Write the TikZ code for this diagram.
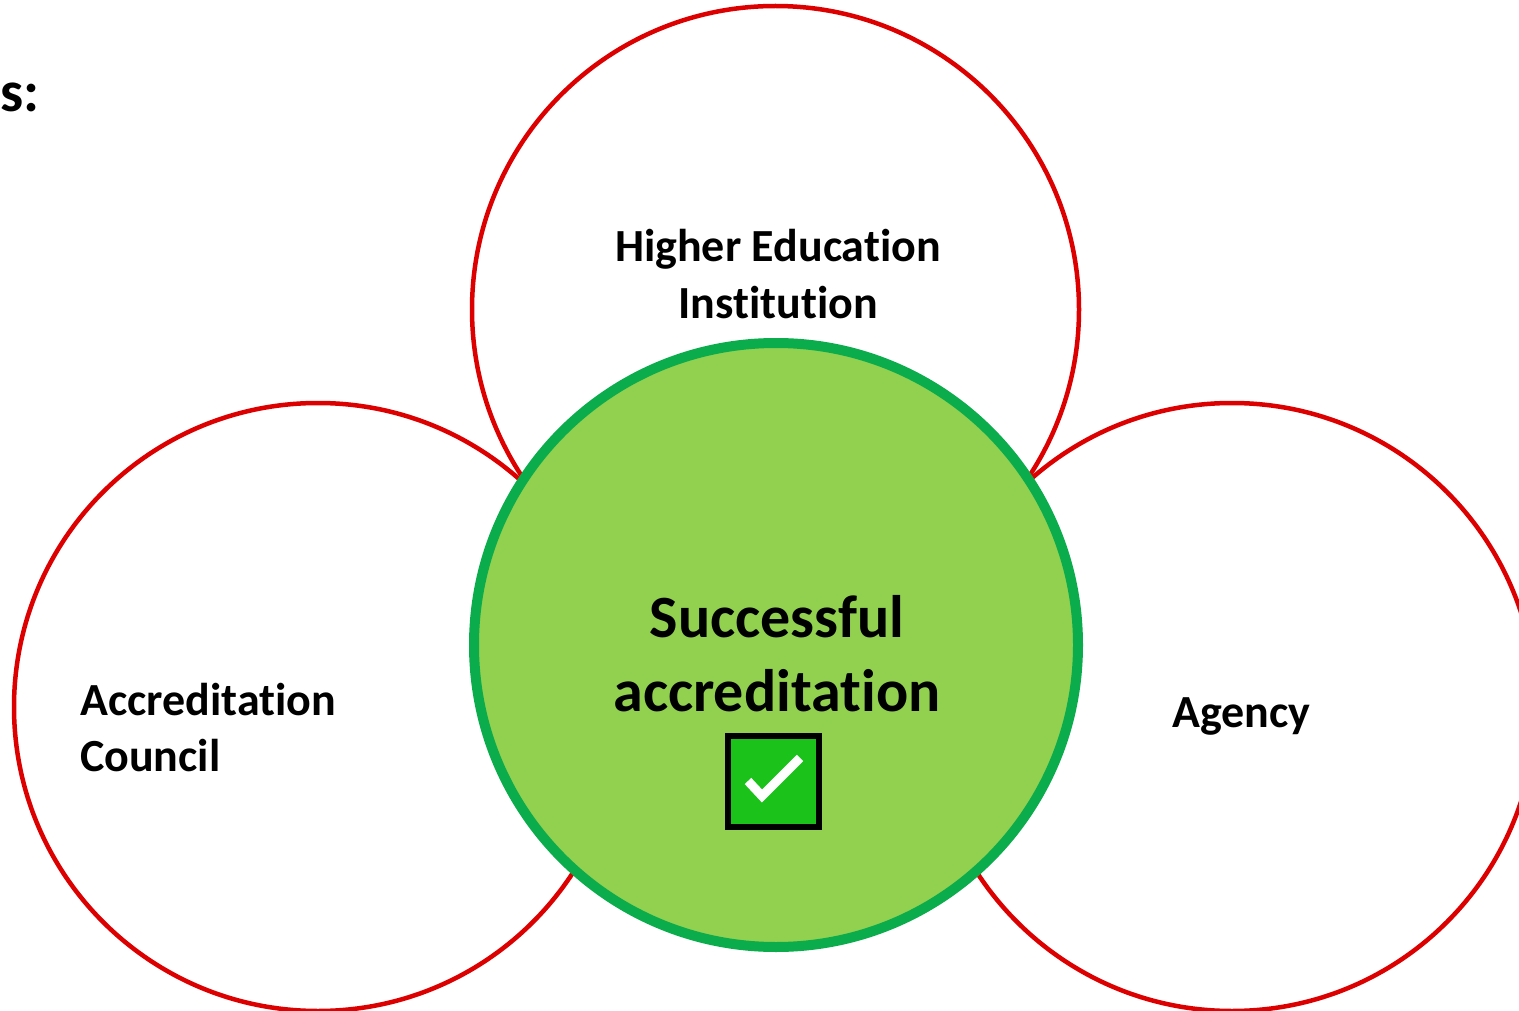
\documentclass[tikz,border=0pt]{standalone}
\usepackage{fontspec}
\setmainfont{Carlito}[Ligatures=NoCommon]
\definecolor{ringred}{RGB}{220,0,0}
\definecolor{ringgreen}{RGB}{10,172,75}
\definecolor{fillgreen}{RGB}{146,208,80}
\definecolor{boxgreen}{RGB}{26,194,26}
\begin{document}
\begin{tikzpicture}[x=1pt,y=-1pt,
  redring/.style={circle,draw=ringred,line width=4.5pt,inner sep=0pt,minimum size=#1},
  sidelabel/.style={font=\fontsize{46}{56}\selectfont\bfseries,inner sep=0pt},
  biglabel/.style={font=\fontsize{60}{74}\selectfont\bfseries,inner sep=0pt,align=center}]
\useasboundingbox (0,0) rectangle (1519,1011);
\clip (0,0) rectangle (1519,1011);
% red circles
\node[redring=607pt] (hei) at (775.5,309.5) {};
\node[redring=608pt] (council) at (318,707) {};
\node[redring=608pt] (agency) at (1232,707) {};
% central green circle
\node[circle,draw=ringgreen,fill=fillgreen,line width=10pt,inner sep=0pt,minimum size=604pt] (center) at (776,645) {};
% labels
\node[sidelabel,align=center,anchor=base] (heitext) at (778,318) {Higher Education\\Institution};
\node[sidelabel,align=left,anchor=base west] (counciltext) at (80,771) {Accreditation\\Council};
\node[sidelabel,anchor=base west] (agencytext) at (1172,727) {Agency};
\node[biglabel,anchor=base] (centertext) at (777,711) {Successful\\accreditation};
\node[font=\fontsize{58}{70}\selectfont\bfseries,inner sep=0pt,anchor=base west] (stext) at (0,112) {s:};
% check box
\node[draw=black,fill=boxgreen,line width=6pt,inner sep=0pt,minimum size=91pt] (checkbox) at (773.5,781.5) {};
\coordinate (c1) at (748,781);
\coordinate (c2) at (762,796);
\coordinate (c3) at (800,758);
\draw[white,line width=9pt] (c1) -- (c2) -- (c3);
\end{tikzpicture}
\end{document}
